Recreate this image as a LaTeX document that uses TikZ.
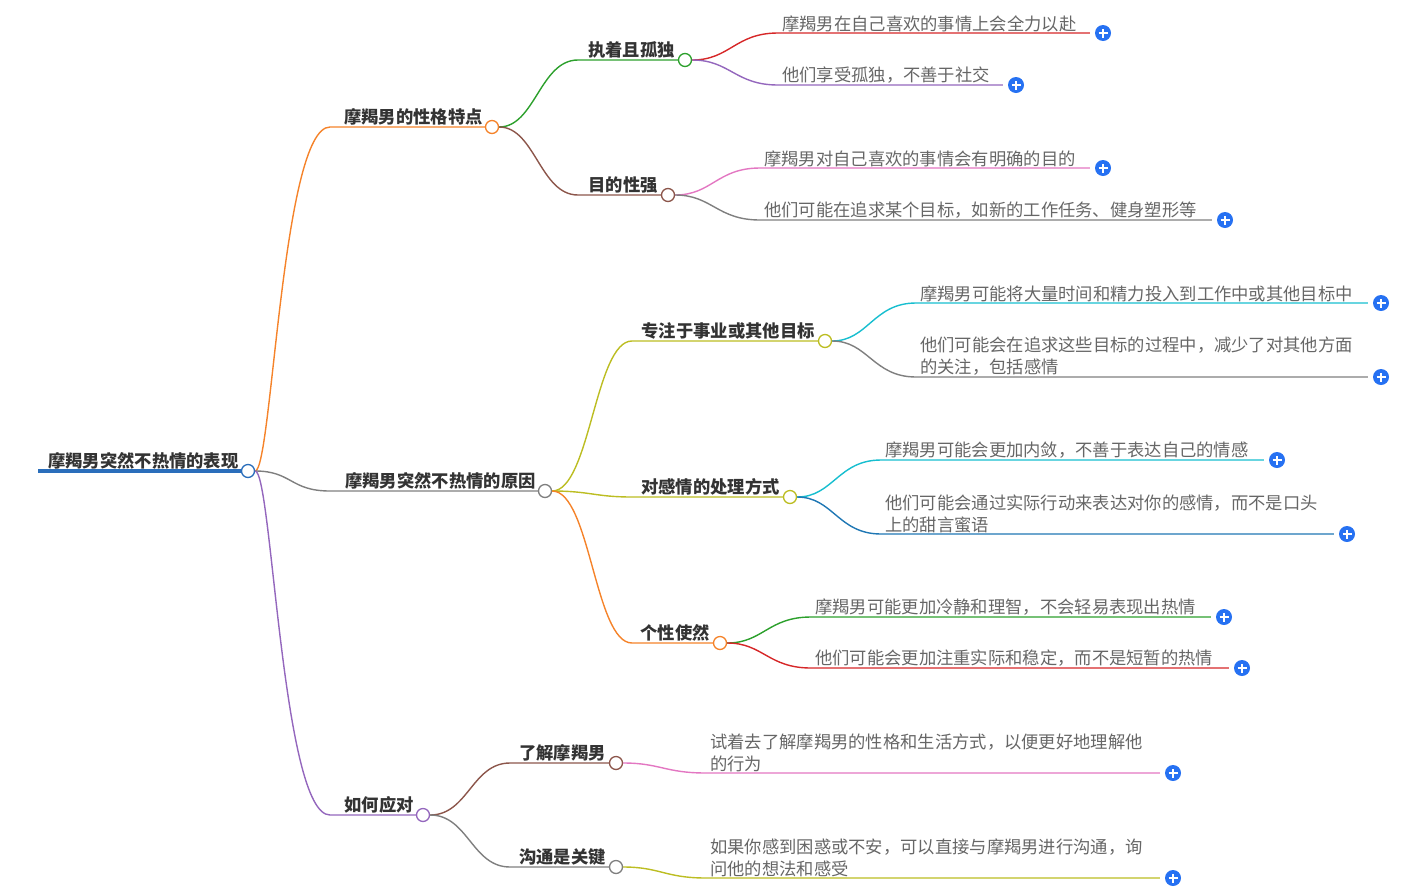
\documentclass[tikz,border=0pt]{standalone}
\usepackage{fontspec}
\setmainfont{Noto Sans CJK SC}
\usepackage{xcolor}
\usepackage{tikz}
\usetikzlibrary{positioning}
\definecolor{rootblue}{HTML}{2A6EBB}
\definecolor{mapblue}{HTML}{1F77B4}
\definecolor{maporange}{HTML}{F5832A}
\definecolor{mapgreen}{HTML}{2CA02C}
\definecolor{mapred}{HTML}{D62728}
\definecolor{mappurple}{HTML}{9467BD}
\definecolor{mapbrown}{HTML}{8C564B}
\definecolor{mappink}{HTML}{E377C2}
\definecolor{mapgray}{HTML}{7F7F7F}
\definecolor{mapolive}{HTML}{BCBD22}
\definecolor{mapcyan}{HTML}{17BECF}
\definecolor{plusblue}{HTML}{2671F2}
\definecolor{headgray}{HTML}{333333}
\definecolor{leafgray}{HTML}{666666}

\begin{document}
\begin{tikzpicture}[x=1pt, y=-1pt,
    branch/.style={line width=1.4pt},
    dot/.style={circle, draw, fill=white, line width=1.3pt, minimum size=13pt, inner sep=0pt},
    head/.style={font=\fontsize{17.3}{22}\selectfont\bfseries, text=headgray, inner sep=0pt},
    leaftext/.style={font=\fontsize{17.3}{22}\selectfont, text=leafgray, inner sep=0pt, align=left},
    expander/.style={circle, fill=plusblue, minimum size=16pt, inner sep=0pt,
      path picture={\draw[white, line width=1.6pt]
        (path picture bounding box.center) ++(-4.5pt,0pt) -- ++(9pt,0pt)
        (path picture bounding box.center) ++(0pt,-4.5pt) -- ++(0pt,9pt);}},
    plusline/.style={branch, shorten >=5pt}]
  \useasboundingbox (0,0) rectangle (1414,895);

  % root
  \coordinate (rootstart) at (38,471);
  \node[dot, draw=rootblue] (root) at (248,471) {};
  \draw[rootblue, line width=4pt] (rootstart) -- (root);
  \node[head, above right=1.5pt and 10pt of rootstart] (roottext) {摩羯男突然不热情的表现};

  % first level
  \node[dot, draw=maporange] (trait) at (492,127) {};
  \coordinate (traitstart) at (330,127);
  \draw[branch, maporange] (root) .. controls (272,471) and (282,127) .. (traitstart) -- (trait);
  \node[head, above left=1.5pt and 2pt of trait.west] (traittext) {摩羯男的性格特点};

  \node[dot, draw=mapgray] (cause) at (545,491) {};
  \coordinate (causestart) at (330,491);
  \draw[branch, mapgray] (root) .. controls (292,471) and (290,491) .. (causestart) -- (cause);
  \node[head, above left=1.5pt and 2pt of cause.west] (causetext) {摩羯男突然不热情的原因};

  \node[dot, draw=mappurple] (cope) at (423,815) {};
  \coordinate (copestart) at (330,815);
  \draw[branch, mappurple] (root) .. controls (272,471) and (282,815) .. (copestart) -- (cope);
  \node[head, above left=1.5pt and 2pt of cope.west] (copetext) {如何应对};

  % second level
  \node[dot, draw=mapgreen] (stubborn) at (685,60) {};
  \coordinate (stubbornstart) at (578,60);
  \draw[branch, mapgreen] (trait) .. controls (535,127) and (540,60) .. (stubbornstart) -- (stubborn);
  \node[head, above left=1.5pt and 3pt of stubborn.west] (stubborntext) {执着且孤独};

  \node[dot, draw=mapbrown] (purpose) at (668,195) {};
  \coordinate (purposestart) at (578,195);
  \draw[branch, mapbrown] (trait) .. controls (535,127) and (540,195) .. (purposestart) -- (purpose);
  \node[head, above left=1.5pt and 3pt of purpose.west] (purposetext) {目的性强};

  \node[dot, draw=mapolive] (career) at (825,341) {};
  \coordinate (careerstart) at (632,341);
  \draw[branch, mapolive] (cause) .. controls (590,491) and (595,341) .. (careerstart) -- (career);
  \node[head, above left=1.5pt and 3pt of career.west] (careertext) {专注于事业或其他目标};

  \node[dot, draw=mapolive] (emotion) at (790,497) {};
  \coordinate (emotionstart) at (632,497);
  \draw[branch, mapolive] (cause) .. controls (590,491) and (595,497) .. (emotionstart) -- (emotion);
  \node[head, above left=1.5pt and 3pt of emotion.west] (emotiontext) {对感情的处理方式};

  \node[dot, draw=maporange] (nature) at (720,643) {};
  \coordinate (naturestart) at (632,643);
  \draw[branch, maporange] (cause) .. controls (590,491) and (595,643) .. (naturestart) -- (nature);
  \node[head, above left=1.5pt and 3pt of nature.west] (naturetext) {个性使然};

  \node[dot, draw=mapbrown] (know) at (616,763) {};
  \coordinate (knowstart) at (510,763);
  \draw[branch, mapbrown] (cope) .. controls (468,815) and (472,763) .. (knowstart) -- (know);
  \node[head, above left=1.5pt and 3pt of know.west] (knowtext) {了解摩羯男};

  \node[dot, draw=mapgray] (talk) at (616,867) {};
  \coordinate (talkstart) at (510,867);
  \draw[branch, mapgray] (cope) .. controls (468,815) and (472,867) .. (talkstart) -- (talk);
  \node[head, above left=1.5pt and 3pt of talk.west] (talktext) {沟通是关键};

  % leaves
  \coordinate (sa) at (778,33);
  \node[expander] (saplus) at (1103,33) {};
  \draw[plusline, mapred] (stubborn) .. controls (730,60) and (735,33) .. (sa) -- (saplus);
  \node[leaftext, above right=1pt and 4pt of sa] (satext) {摩羯男在自己喜欢的事情上会全力以赴};

  \coordinate (sb) at (778,85);
  \node[expander] (sbplus) at (1016,85) {};
  \draw[plusline, mappurple] (stubborn) .. controls (730,60) and (735,85) .. (sb) -- (sbplus);
  \node[leaftext, above right=1pt and 4pt of sb] (sbtext) {他们享受孤独，不善于社交};

  \coordinate (pa) at (760,168);
  \node[expander] (paplus) at (1103,168) {};
  \draw[plusline, mappink] (purpose) .. controls (712,195) and (717,168) .. (pa) -- (paplus);
  \node[leaftext, above right=1pt and 4pt of pa] (patext) {摩羯男对自己喜欢的事情会有明确的目的};

  \coordinate (pb) at (760,220);
  \node[expander] (pbplus) at (1225,220) {};
  \draw[plusline, mapgray] (purpose) .. controls (712,195) and (717,220) .. (pb) -- (pbplus);
  \node[leaftext, above right=1pt and 4pt of pb] (pbtext) {他们可能在追求某个目标，如新的工作任务、健身塑形等};

  \coordinate (ca) at (916,303);
  \node[expander] (caplus) at (1381,303) {};
  \draw[plusline, mapcyan] (career) .. controls (868,341) and (873,303) .. (ca) -- (caplus);
  \node[leaftext, above right=1pt and 4pt of ca] (catext) {摩羯男可能将大量时间和精力投入到工作中或其他目标中};

  \coordinate (cb) at (916,377);
  \node[expander] (cbplus) at (1381,377) {};
  \draw[plusline, mapgray] (career) .. controls (868,341) and (873,377) .. (cb) -- (cbplus);
  \node[leaftext, above right=1pt and 4pt of cb] (cbtext) {他们可能会在追求这些目标的过程中，减少了对其他方面\\的关注，包括感情};

  \coordinate (ea) at (881,460);
  \node[expander] (eaplus) at (1277,460) {};
  \draw[plusline, mapcyan] (emotion) .. controls (833,497) and (838,460) .. (ea) -- (eaplus);
  \node[leaftext, above right=1pt and 4pt of ea] (eatext) {摩羯男可能会更加内敛，不善于表达自己的情感};

  \coordinate (eb) at (881,534);
  \node[expander] (ebplus) at (1347,534) {};
  \draw[plusline, mapblue] (emotion) .. controls (833,497) and (838,534) .. (eb) -- (ebplus);
  \node[leaftext, above right=1pt and 4pt of eb] (ebtext) {他们可能会通过实际行动来表达对你的感情，而不是口头\\上的甜言蜜语};

  \coordinate (na) at (811,617);
  \node[expander] (naplus) at (1224,617) {};
  \draw[plusline, mapgreen] (nature) .. controls (763,643) and (768,617) .. (na) -- (naplus);
  \node[leaftext, above right=1pt and 4pt of na] (natext) {摩羯男可能更加冷静和理智，不会轻易表现出热情};

  \coordinate (nb) at (811,668);
  \node[expander] (nbplus) at (1242,668) {};
  \draw[plusline, mapred] (nature) .. controls (763,643) and (768,668) .. (nb) -- (nbplus);
  \node[leaftext, above right=1pt and 4pt of nb] (nbtext) {他们可能会更加注重实际和稳定，而不是短暂的热情};

  \coordinate (ka) at (706,773);
  \node[expander] (kaplus) at (1173,773) {};
  \draw[plusline, mappink] (know) .. controls (660,763) and (665,773) .. (ka) -- (kaplus);
  \node[leaftext, above right=1pt and 4pt of ka] (katext) {试着去了解摩羯男的性格和生活方式，以便更好地理解他\\的行为};

  \coordinate (ta) at (706,878);
  \node[expander] (taplus) at (1173,878) {};
  \draw[plusline, mapolive] (talk) .. controls (660,867) and (665,878) .. (ta) -- (taplus);
  \node[leaftext, above right=1pt and 4pt of ta] (tatext) {如果你感到困惑或不安，可以直接与摩羯男进行沟通，询\\问他的想法和感受};
\end{tikzpicture}
\end{document}
